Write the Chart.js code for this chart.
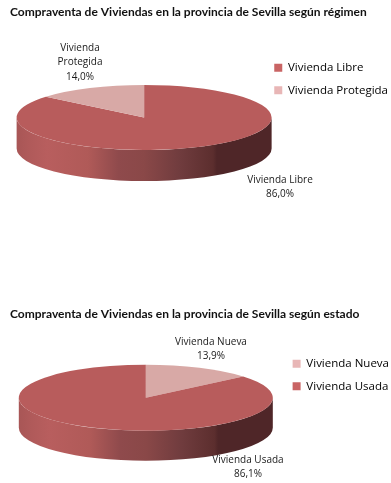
<!DOCTYPE html>
<html><head><meta charset="utf-8">
<script src="https://cdn.jsdelivr.net/npm/chart.js@4"></script>
<style>html,body{margin:0;padding:0;background:#fff;width:391px;height:483px;overflow:hidden}
canvas{position:absolute;left:0}</style></head>
<body>
<canvas id="c1" width="391" height="241" style="top:0;width:391px;height:241px"></canvas>
<canvas id="c2" width="391" height="183" style="top:300px;width:391px;height:183px"></canvas>
<script>
const titleRegimen = 'Compraventa de Viviendas en la provincia de Sevilla según régimen';
const categoriesRegimen = ['Vivienda Libre', 'Vivienda Protegida'];
const valuesRegimen = [86.0, 14.0];
const coloursRegimen = ['#b85c5c', '#d8a9a6'];
const legendColoursRegimen = ['#c96464', '#e8b6b6'];

const titleEstado = 'Compraventa de Viviendas en la provincia de Sevilla según estado';
const categoriesEstado = ['Vivienda Nueva', 'Vivienda Usada'];
const valuesEstado = [13.9, 86.1];
const coloursEstado = ['#d8a9a6', '#b85c5c'];
const legendColoursEstado = ['#e8b6b6', '#c96464'];

const wallStops = [[0,'#a85656'],[0.05,'#b05a5a'],[0.12,'#b85e5e'],[0.28,'#b05a58'],[0.40,'#8f4a4c'],[0.5,'#8a4848'],
  [0.64,'#703c3e'],[0.77,'#5c2e2e'],[0.785,'#4f2628'],[1,'#4f2628']];

function pct(v){ return v.toFixed(1).replace('.', ',') + '%'; }

const pie3d = {
  id: 'pie3d',
  afterLayout(chart, args, o) { chart.titleBlock.left = o.titleX; },
  beforeDatasetDraw(chart, args, o) {
    const ctx = chart.ctx, a = args.meta.data[0];
    const cx = a.x, cy = a.y, r = a.outerRadius, ry = r * o.tilt;
    const g = ctx.createLinearGradient(cx - r, 0, cx + r, 0);
    wallStops.forEach(s => g.addColorStop(s[0], s[1]));
    ctx.save();
    ctx.fillStyle = g;
    ctx.beginPath();
    ctx.ellipse(cx, cy, r, ry, 0, 0, Math.PI);
    ctx.lineTo(cx - r, cy + o.depth);
    ctx.ellipse(cx, cy + o.depth, r, ry, 0, Math.PI, 0, true);
    ctx.closePath();
    ctx.fill();
    ctx.restore();
    ctx.save();
    ctx.translate(cx, cy); ctx.scale(1, o.tilt); ctx.translate(-cx, -cy);
  },
  afterDatasetDraw(chart) { chart.ctx.restore(); },
  afterDraw(chart, args, o) {
    const ctx = chart.ctx;
    ctx.save();
    ctx.font = '10px "Open Sans"';
    ctx.fillStyle = '#1a1a1a';
    ctx.textAlign = 'center';
    ctx.textBaseline = 'middle';
    o.labels.forEach(l => l.lines.forEach((t, i) => ctx.fillText(t, l.x, l.y + i * 14.5)));
    ctx.restore();
  }
};

function build(id, cats, vals, cols, legendCols, title, pad, titlePad, radius, opt) {
  return new Chart(document.getElementById(id), {
    type: 'pie',
    plugins: [pie3d],
    data: { labels: cats, datasets: [{ data: vals, backgroundColor: cols, borderWidth: 0, clip: false, radius: radius }] },
    options: {
      responsive: false, animation: false,
      layout: { padding: pad },
      plugins: {
        tooltip: { enabled: false },
        title: { display: true, text: title, align: 'start', color: '#111',
          font: { family: 'Lato', size: 12, weight: 'bold' }, padding: titlePad },
        legend: { position: 'right', align: 'start', fullSize: false,
          labels: { boxWidth: 8, boxHeight: 8, padding: 11, color: '#222', font: { family: 'Open Sans', size: 11.5 },
            generateLabels() {
              return cats.map((t, i) => ({ text: t, fillStyle: legendCols[i], strokeStyle: legendCols[i], lineWidth: 0, index: i, datasetIndex: 0 }));
            } } },
        pie3d: opt
      }
    }
  });
}

build('c1', categoriesRegimen, valuesRegimen, coloursRegimen, legendColoursRegimen, titleRegimen,
  { left: 25, right: -7, top: 5, bottom: 57 }, { top: 0, bottom: 31.6 }, 127.5,
  { titleX: 10, tilt: 32.5 / 127.5, depth: 31, labels: [
    { x: 80, y: 48, lines: ['Vivienda', 'Protegida', pct(valuesRegimen[1])] },
    { x: 280, y: 180, lines: ['Vivienda Libre', pct(valuesRegimen[0])] } ] });

build('c2', categoriesEstado, valuesEstado, coloursEstado, legendColoursEstado, titleEstado,
  { left: 10, right: -8, top: 7, bottom: 34.6 }, { top: 0, bottom: 25.6 }, 127,
  { titleX: 10, tilt: 33 / 127, depth: 30, labels: [
    { x: 211, y: 42, lines: ['Vivienda Nueva', pct(valuesEstado[0])] },
    { x: 248, y: 160, lines: ['Vivienda Usada', pct(valuesEstado[1])] } ] });
</script>
</body></html>
